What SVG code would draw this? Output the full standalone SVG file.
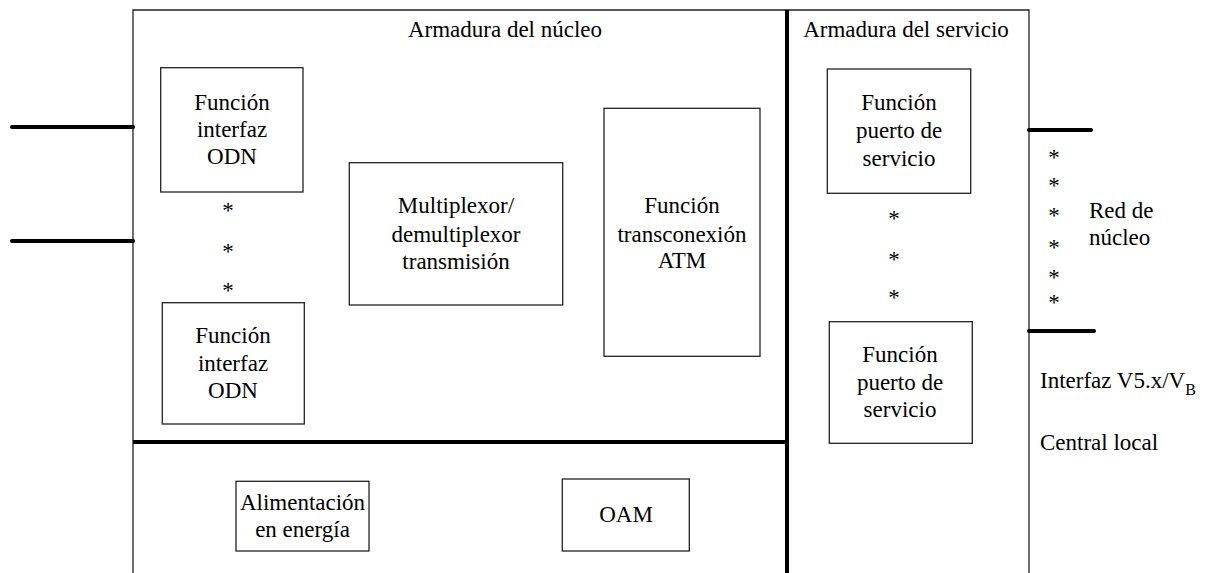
<svg xmlns="http://www.w3.org/2000/svg" width="1211" height="573" viewBox="0 0 1211 573" font-family="'Liberation Serif', 'DejaVu Serif', serif">
<style>
text{font-family:'Liberation Serif','DejaVu Serif',serif;font-size:23px;fill:#000}
.c{text-anchor:middle}
.box{fill:#fff;stroke:#222;stroke-width:1.3}
.frame{fill:none;stroke:#222;stroke-width:1.3}
.thick{stroke:#000;stroke-width:4;stroke-linecap:round;fill:none}
.div{stroke:#000;stroke-width:4;fill:none}
</style>
<rect width="1211" height="573" fill="#fff"/>
<g id="frame">
<path class="frame" d="M133,580 V10 H1029 V580"/>
<path class="div" d="M787,10 V580"/>
<path class="div" d="M133,442 H787"/>
<text class="c" x="505" y="37">Armadura del núcleo</text>
<text class="c" x="906" y="37">Armadura del servicio</text>
</g>
<g id="connectors">
<line class="thick" x1="12" y1="127" x2="133" y2="127"/>
<line class="thick" x1="12" y1="241" x2="133" y2="241"/>
<line class="thick" x1="1029" y1="130" x2="1091" y2="130"/>
<line class="thick" x1="1029" y1="331" x2="1094" y2="331"/>
</g>
<g id="odn1">
<rect class="box" x="160.7" y="67.7" width="142.3" height="124.3"/>
<text class="c" x="232" y="110">Función</text>
<text class="c" x="232" y="137">interfaz</text>
<text class="c" x="232" y="164">ODN</text>
</g>
<g id="odn-stars">
<text class="c" x="228" y="218">*</text>
<text class="c" x="228" y="259">*</text>
<text class="c" x="228" y="298">*</text>
</g>
<g id="odn2">
<rect class="box" x="162.3" y="302.7" width="142" height="121.3"/>
<text class="c" x="233" y="343">Función</text>
<text class="c" x="233" y="371">interfaz</text>
<text class="c" x="233" y="398">ODN</text>
</g>
<g id="mux">
<rect class="box" x="349.3" y="162.7" width="213.4" height="142.3"/>
<text class="c" x="456" y="213">Multiplexor/</text>
<text class="c" x="456" y="241.5">demultiplexor</text>
<text class="c" x="456" y="269">transmisión</text>
</g>
<g id="atm">
<rect class="box" x="604" y="108.3" width="156" height="248"/>
<text class="c" x="682" y="213">Función</text>
<text class="c" x="682" y="241.5">transconexión</text>
<text class="c" x="682" y="268">ATM</text>
</g>
<g id="power">
<rect class="box" x="236" y="481.3" width="133" height="69.7"/>
<text class="c" x="302.5" y="510">Alimentación</text>
<text class="c" x="302.5" y="536.5">en energía</text>
</g>
<g id="oam">
<rect class="box" x="562.3" y="479" width="127" height="72"/>
<text class="c" x="626" y="521.5">OAM</text>
</g>
<g id="svc1">
<rect class="box" x="827.3" y="69" width="143.4" height="124.3"/>
<text class="c" x="899" y="110">Función</text>
<text class="c" x="899" y="137.5">puerto de</text>
<text class="c" x="899" y="165.5">servicio</text>
</g>
<g id="svc-stars">
<text class="c" x="894" y="226">*</text>
<text class="c" x="894" y="267">*</text>
<text class="c" x="894" y="305">*</text>
</g>
<g id="svc2">
<rect class="box" x="829.3" y="321.7" width="143" height="121.6"/>
<text class="c" x="900" y="362">Función</text>
<text class="c" x="900" y="390">puerto de</text>
<text class="c" x="900" y="417">servicio</text>
</g>
<g id="core-net">
<text class="c" x="1054" y="165">*</text>
<text class="c" x="1054" y="193">*</text>
<text class="c" x="1054" y="223">*</text>
<text class="c" x="1054" y="255">*</text>
<text class="c" x="1054" y="285">*</text>
<text class="c" x="1054" y="310">*</text>
<text x="1089" y="218">Red de</text>
<text x="1089" y="245">núcleo</text>
</g>
<g id="labels">
<text x="1040" y="388">Interfaz V5.x/V<tspan font-size="16" dy="7">B</tspan></text>
<text x="1040" y="450">Central local</text>
</g>
</svg>
